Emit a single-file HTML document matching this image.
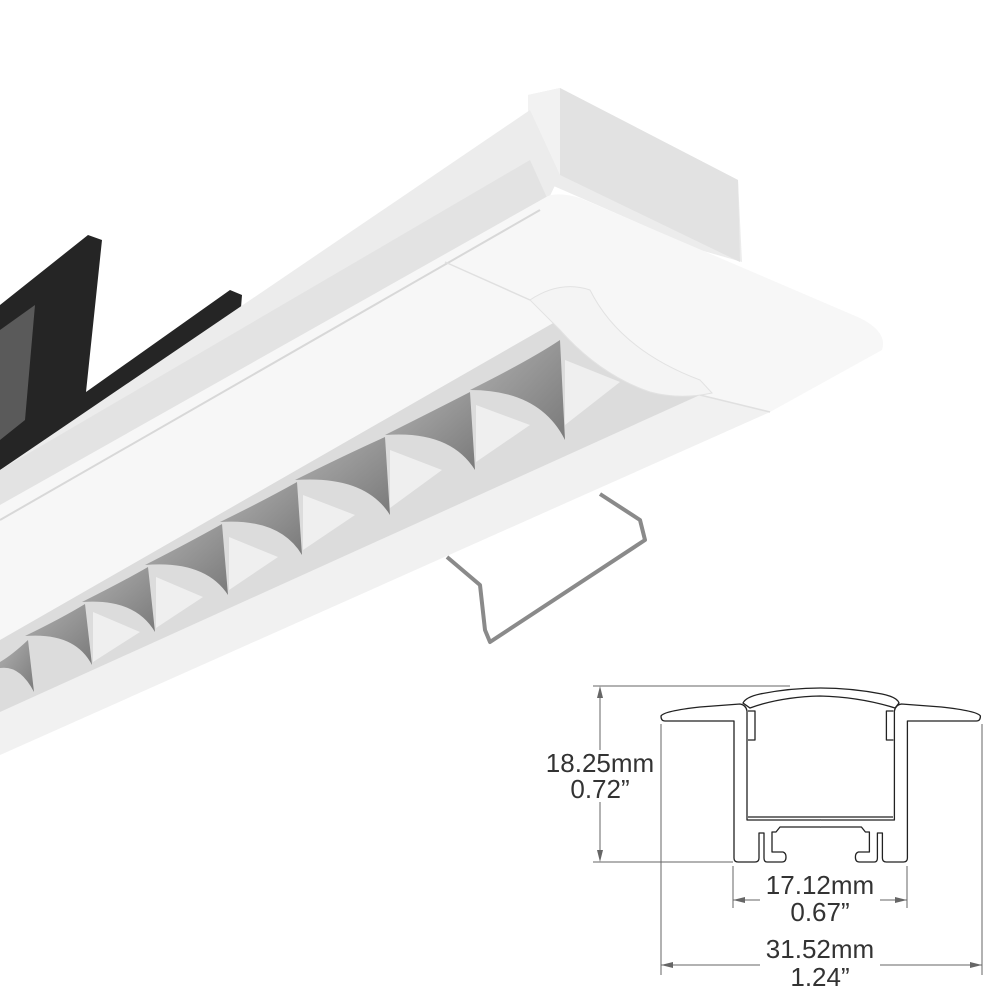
<!DOCTYPE html>
<html><head><meta charset="utf-8"><style>
html,body{margin:0;padding:0;background:#fff;}
svg{display:block}
text{font-family:"Liberation Sans",Arial,sans-serif;fill:#333;}
</style></head><body>
<svg width="1000" height="1000" viewBox="0 0 1000 1000" xmlns="http://www.w3.org/2000/svg">
<defs>
<linearGradient id="gb" x1="0" y1="0" x2="1" y2="1">
<stop offset="0" stop-color="#b0b0b0"/><stop offset="1" stop-color="#7a7a7a"/></linearGradient>
</defs>
<!-- black bracket -->
<polygon points="0,305 88,235 102,240 86,392 230,290 242,295 240,320 0,500" fill="#252525"/>
<polygon points="0,330 35,305 25,420 0,440" fill="#5a5a5a"/>
<!-- top box -->
<polygon points="528,95 560,88 738,180 742,262 700,250 540,180" fill="#ececec"/>
<polygon points="560,88 738,180 740,262 560,175" fill="#e2e2e2"/>
<polygon points="528,95 560,88 560,175 528,180" fill="#f2f2f2"/>
<!-- main body top strip -->
<polygon points="0,470 530,110 560,175 548,200 0,530" fill="#ececec"/>
<polygon points="0,470 530,160 548,200 0,505" fill="#e3e3e3"/>
<!-- flange -->
<path d="M0,505 L548,196 Q560,192 580,198 L860,318 Q888,332 882,350 L770,412 L0,755 Z" fill="#f7f7f7"/>
<path d="M0,700 L700,395 L770,412 L0,755 Z" fill="#f1f1f1"/>
<line x1="0" y1="520" x2="540" y2="210" stroke="#d8d8d8" stroke-width="2"/>
<line x1="445" y1="262" x2="530" y2="300" stroke="#e0e0e0" stroke-width="1.5"/>
<line x1="700" y1="395" x2="770" y2="412" stroke="#e0e0e0" stroke-width="1.5"/>
<!-- louver channel -->
<polygon points="0,640 555,322 700,395 0,712" fill="#dcdcdc"/>
<g fill="url(#gb)">
<path d="M470,390 Q530,360 560,340 L565,440 Q540,390 470,390 Z"/>
<path d="M385,435 Q435,410 470,392 L475,470 Q450,430 385,435 Z"/>
<path d="M295,480 Q345,455 385,437 L390,515 Q365,475 295,480 Z"/>
<path d="M220,522 Q265,500 297,482 L302,555 Q280,518 220,522 Z"/>
<path d="M145,565 Q190,542 222,524 L228,595 Q205,560 145,565 Z"/>
<path d="M82,602 Q122,582 148,567 L155,632 Q135,598 82,602 Z"/>
<path d="M25,636 Q62,618 85,604 L92,665 Q75,632 25,636 Z"/>
<path d="M0,662 Q12,655 28,640 L34,692 Q20,665 0,668 Z"/>
</g>
<g fill="#efefef">
<polygon points="565,360 620,382 565,425"/>
<polygon points="476,405 530,425 476,462"/>
<polygon points="390,450 442,470 390,508"/>
<polygon points="303,495 355,515 303,550"/>
<polygon points="229,537 278,557 229,590"/>
<polygon points="156,577 203,597 156,628"/>
<polygon points="93,612 140,632 93,662"/>
</g>
<!-- end cap bump -->
<path d="M530,300 Q560,280 590,290 Q620,350 700,380 L712,393 Q680,400 650,392 Q600,375 560,330 Z" fill="#f4f4f4" stroke="#e2e2e2" stroke-width="1"/>
<!-- wire -->
<polyline points="600,494 640,520 645,540 490,642 485,630 480,585 447,557" fill="none" stroke="#8a8a8a" stroke-width="4" stroke-linejoin="round"/>

<!-- profile drawing -->
<g stroke="#666" stroke-width="1" fill="none">
<line x1="593" y1="686" x2="790" y2="686"/>
<line x1="593" y1="862" x2="733" y2="862"/>
<line x1="600" y1="690" x2="600" y2="750"/>
<line x1="600" y1="802" x2="600" y2="858"/>
<line x1="661" y1="724" x2="661" y2="975"/>
<line x1="982" y1="724" x2="982" y2="975"/>
<line x1="733" y1="866" x2="733" y2="908"/>
<line x1="907" y1="866" x2="907" y2="908"/>
<line x1="733" y1="900" x2="760" y2="900"/>
<line x1="880" y1="900" x2="907" y2="900"/>
<line x1="661" y1="965" x2="760" y2="965"/>
<line x1="880" y1="965" x2="982" y2="965"/>
</g>
<g fill="#666">
<polygon points="600,686 597,698 603,698"/>
<polygon points="600,862 597,850 603,850"/>
<polygon points="733,900 745,897 745,903"/>
<polygon points="907,900 895,897 895,903"/>
<polygon points="661,965 673,962 673,968"/>
<polygon points="982,965 970,962 970,968"/>
</g>
<g id="half" stroke="#222" stroke-width="1.3" fill="#fff" stroke-linejoin="round">
<path d="M821,827 L780,827 L776,832 L772,832 L772,852 L783,852 Q786,853 786,857 Q786,862 782,862 L767,862 Q764,862 764,858 L764,833 L759,833 L759,858 Q759,862 755,862 L738,862 Q734,862 734,858 L734,721 L665,721 Q661,721 661,716 Q664,711 700,707 L740,704 Q746,705 747,711 L747,820 L821,820"/>
<path d="M748,711 L755,711 L755,740 L748,740"/>
</g>
<use href="#half" transform="translate(1641.4,0) scale(-1,1)"/>
<path d="M743,703 Q746,697 760,694 Q820,682 882,694 Q897,697 899,703 L895,708 Q860,697 820,696 Q780,697 750,708 Z" fill="#fff" stroke="#222" stroke-width="1.3"/>
<line x1="748" y1="817" x2="893" y2="817" stroke="#222" stroke-width="1.3"/>
<g font-size="26" text-anchor="middle">
<text x="600" y="772">18.25mm</text>
<text x="600" y="798">0.72”</text>
<text x="820" y="894">17.12mm</text>
<text x="820" y="921">0.67”</text>
<text x="820" y="958">31.52mm</text>
<text x="820" y="986">1.24”</text>
</g>
</svg>
</body></html>
